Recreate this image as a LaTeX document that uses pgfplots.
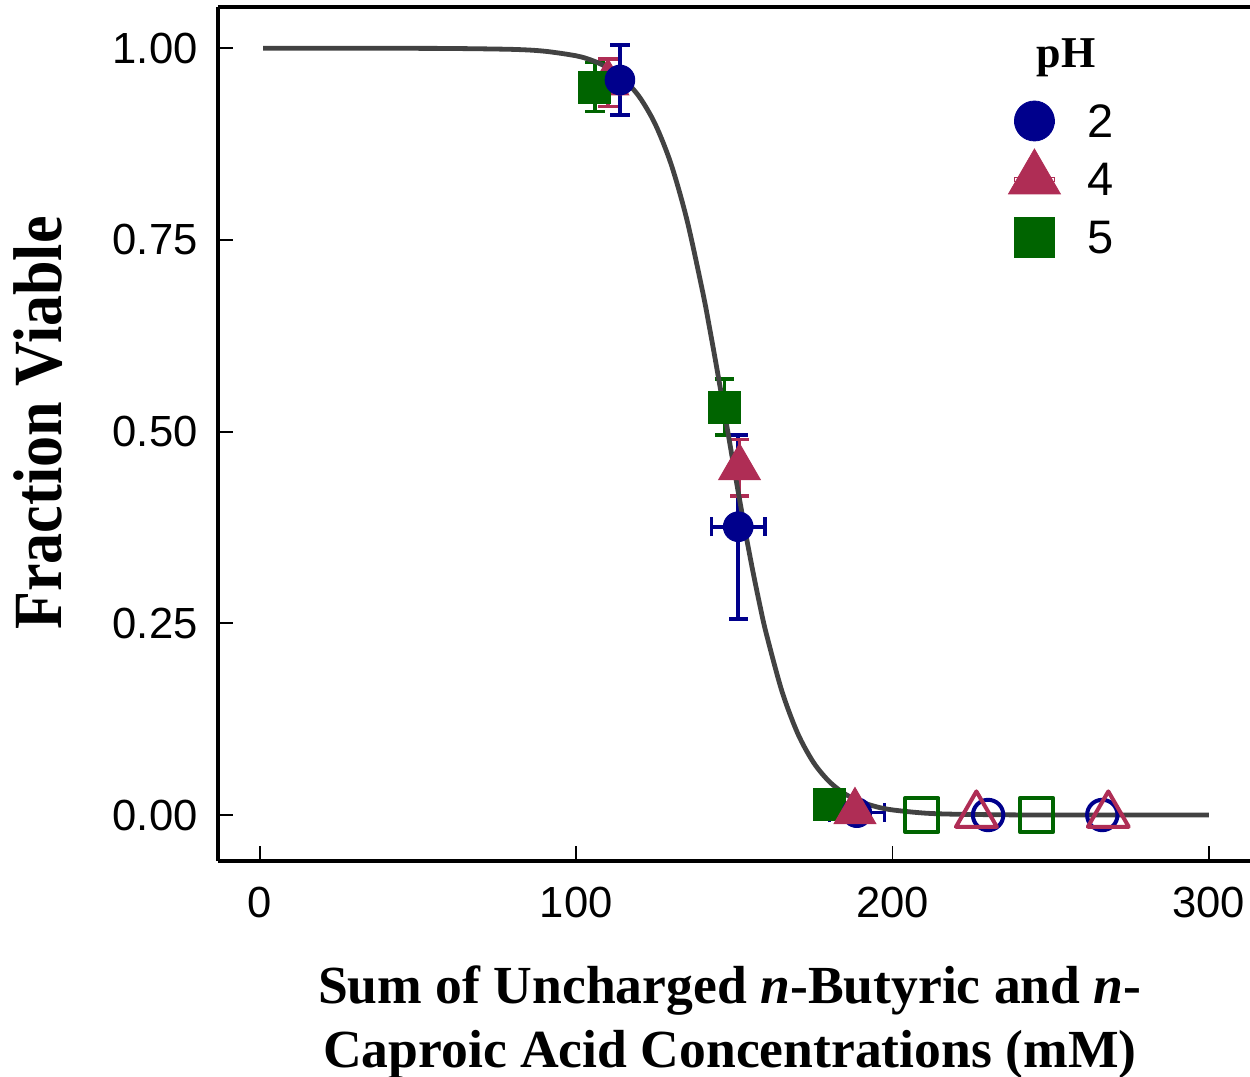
\documentclass[border=0pt]{standalone}
\usepackage{pgfplots}
\pgfplotsset{compat=1.18}
\usepackage{fontspec}
\setmainfont{Liberation Serif}
\setsansfont{Liberation Sans}
\newfontfamily\ylabfont[FakeStretch=0.9]{Liberation Serif}
\definecolor{navyc}{RGB}{0,0,140}
\definecolor{crimc}{RGB}{175,45,85}
\definecolor{greenc}{RGB}{0,100,0}
\definecolor{curvec}{RGB}{66,66,66}

\begin{document}
\begin{tikzpicture}
\useasboundingbox (-109pt,-108pt) rectangle (516pt,430.5pt);
\begin{axis}[
  at={(0pt,0pt)}, anchor=south west,
  scale only axis, width=516pt, height=427pt,
  xmin=-13.28, xmax=313.0, ymin=-0.060, ymax=1.0539,
  axis y line*=left, axis x line*=box,
  axis line style={line width=1.9pt, black},
  xtick={0,100,200,300}, ytick={0,0.25,0.5,0.75,1},
  xtick pos=left, ytick pos=left,
  tick align=inside, major tick length=7.5pt,
  tick style={line width=0.9pt, black},
  /pgf/number format/assume math mode=true,
  tick label style={font=\sffamily\fontsize{21.8}{21.8}\selectfont, inner sep=0pt},
  yticklabel style={/pgf/number format/.cd, fixed, fixed zerofill, precision=2, /tikz/.cd, xshift=-10pt},
  xticklabel style={yshift=-13pt},
  ylabel={\ylabfont\bfseries Fraction Viable},
  ylabel style={at={(axis description cs:-0.174,0.513)}, anchor=center, font=\fontsize{34.5}{34.5}\selectfont, inner sep=0pt},
  xlabel={Sum of Uncharged \textit{n}-Butyric and \textit{n}-\\Caproic Acid Concentrations (mM)},
  xlabel style={at={(axis description cs:0.496,-0.1226)}, anchor=north, align=center, font=\bfseries\fontsize{26.8}{31.85}\selectfont, inner sep=0pt},
  legend style={at={(axis cs:238.4,0.9274)}, anchor=north west, draw=none, fill=none, inner sep=0pt, outer sep=0pt, row sep=12pt, column sep=16.5pt, font=\sffamily\fontsize{23.5}{23.5}\selectfont, nodes={inner sep=0pt, text height=17pt, text depth=0pt}},
  legend cell align=left,
  legend image code/.code={\path (0pt,-1pt) rectangle (20pt,1pt); \draw[#1, overlay] plot coordinates {(10pt,0pt)};},
]
\addlegendimage{mark=*, mark size=10pt, color=navyc, mark options={fill=navyc, draw=navyc}}
\addlegendentry{2}
\addlegendimage{mark=triangle*, mark size=15pt, color=crimc, mark options={fill=crimc, draw=crimc}}
\addlegendentry{4}
\addlegendimage{mark=square*, mark size=10pt, color=greenc, mark options={fill=greenc, draw=greenc}}
\addlegendentry{5}

% pH 4 filled (top point, drawn below the others)
\addplot[forget plot, only marks, mark=triangle*, color=crimc, mark size=12pt,
  mark options={fill=crimc, draw=crimc, line width=0.5pt},
  error bars/.cd, y dir=both, y explicit,
  error bar style={line width=1.8pt, crimc},
  error mark options={rotate=90, line width=1.8pt, mark size=4.8pt, crimc}]
coordinates {
(110.0,0.955) +- (0,0.031)
};

% pH 5 filled
\addplot[forget plot, only marks, mark=square*, color=greenc, mark size=8pt,
  mark options={fill=greenc, draw=greenc, line width=0.5pt},
  error bars/.cd, y dir=both, y explicit,
  error bar style={line width=1.8pt, greenc},
  error mark options={rotate=90, line width=1.8pt, mark size=4.8pt, greenc}]
coordinates {
(105.9,0.9495) +- (0,0.032)
(146.8,0.532) +- (0,0.0365)
(180.0,0.0143) +- (0,0)
};
% pH 5 open
\addplot[forget plot, only marks, mark=square, color=greenc, mark size=8.4pt,
  mark options={draw=greenc, line width=2pt, line join=round}]
coordinates {(209.2,0) (245.5,0)};

% pH 2 filled
\addplot[forget plot, only marks, mark=*, color=navyc, mark size=7.4pt,
  mark options={fill=navyc, draw=navyc, line width=0.5pt},
  error bars/.cd, x dir=both, x explicit, y dir=both, y explicit,
  error bar style={line width=1.8pt, navyc},
  error mark options={rotate=90, line width=1.8pt, mark size=4.8pt, navyc}]
coordinates {
(113.8,0.9587) +- (0,0.046)
(151.2,0.376) +- (8.4,0.120)
(188.7,0.003) +- (8.7,0.005)
};
% pH 2 open
\addplot[forget plot, only marks, mark=o, color=navyc, mark size=7.6pt,
  mark options={draw=navyc, line width=2pt}]
coordinates {(230.2,0) (266.3,0)};

% pH 4 filled (other points)
\addplot[forget plot, only marks, mark=triangle*, color=crimc, mark size=12pt,
  mark options={fill=crimc, draw=crimc, line width=0.5pt},
  error bars/.cd, y dir=both, y explicit,
  error bar style={line width=1.8pt, crimc},
  error mark options={rotate=90, line width=1.8pt, mark size=4.8pt, crimc}]
coordinates {
(151.6,0.453) +- (0,0.037)
(188.1,0.0045) +- (0,0)
};
% pH 4 open
\addplot[forget plot, only marks, mark=triangle, color=crimc, mark size=11.8pt,
  mark options={draw=crimc, line width=2pt, line join=round}]
coordinates {(226.5,0) (268.2,0)};

% fitted curve
\addplot[forget plot, color=curvec, line width=2.4pt, smooth, mark=none]
coordinates {
(1,1.0000) (20,1.0000) (40,1.0000) (60,0.9998) (80,0.9986) (90,0.9962)
(100,0.9902) (105,0.9842) (110,0.9747) (115,0.9596) (120,0.9363) (125,0.9007)
(130,0.8486) (135,0.7759) (140,0.6815) (142,0.6383) (144,0.5928) (146,0.5456)
(148,0.4976) (150,0.4496) (152,0.4026) (154,0.3572) (156,0.3143) (158,0.2744)
(160,0.2377) (165,0.1616) (170,0.1064) (175,0.0685) (180,0.0435) (185,0.0273)
(190,0.0171) (195,0.0106) (200,0.0066) (210,0.0025) (220,0.0010) (240,0.0001)
(260,0.0000) (280,0.0000) (300,0.0000)
};

\node[anchor=base, font=\bfseries\fontsize{22}{22}\selectfont, inner sep=0pt] at (axis cs:254.8,0.9756) {pH};
\end{axis}
\end{tikzpicture}
\end{document}
